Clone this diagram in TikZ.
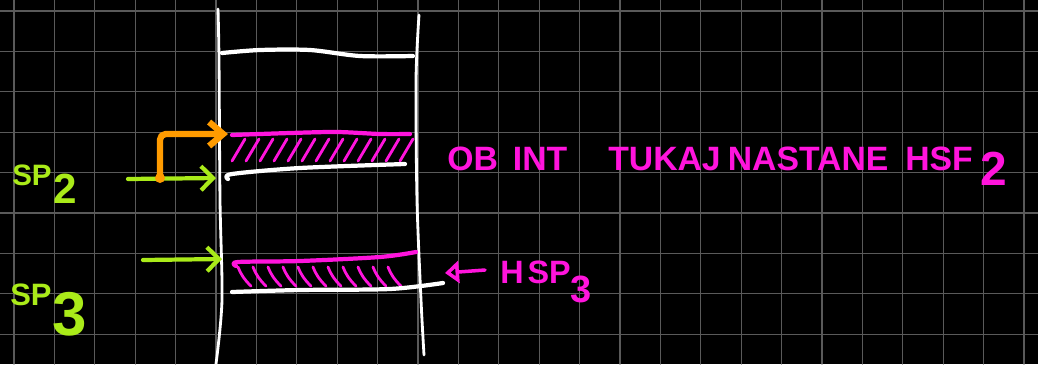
\documentclass[tikz,border=0pt]{standalone}
\usepackage{fontspec}
\setmainfont{Liberation Sans}
\usepackage{xcolor}
\usetikzlibrary{arrows.meta, positioning}
\definecolor{cG}{RGB}{170,235,25}
\definecolor{cM}{RGB}{255,20,220}
\definecolor{cO}{RGB}{255,155,0}
\definecolor{cGr}{RGB}{90,90,90}

\begin{document}
\begin{tikzpicture}[x=0.025cm, y=-0.025cm, line cap=round, line join=round]

    \tikzstyle{wall} = [white, line width=2pt]
    \tikzstyle{frame} = [white, line width=3pt]
    \tikzstyle{mline} = [cM, line width=3pt]
    \tikzstyle{hatch} = [cM, line width=2pt]
    \tikzstyle{ptr} = [cG, line width=3pt, -{Straight Barb[length=0.3cm, width=0.6cm]}]
    \tikzstyle{lbl} = [cG, inner sep=0pt, anchor=base west, font=\bfseries\fontsize{21}{21}\selectfont]
    \tikzstyle{note} = [cM, inner sep=0pt, anchor=base west, font=\bfseries\fontsize{24}{24}\selectfont]

    \useasboundingbox (0,0) rectangle (1038,364);
    \fill[black] (0,0) rectangle (1038,364);

    % grid
    \foreach \i in {0,...,25}
        \draw[cGr, line width=0.8pt] ({14+40.4*\i},0) -- ({14+40.4*\i},364);
    \foreach \j in {0,...,8}
        \draw[cGr, line width=0.8pt] (0,{11+40.4*\j}) -- (1038,{11+40.4*\j});

    % stack walls
    \draw[wall] plot[smooth] coordinates {(218,9) (219,60) (220,200) (222,300) (216,364)};
    \draw[wall] plot[smooth] coordinates {(419,15) (416,80) (417,200) (421,300) (424,355)};

    % top frame
    \draw[frame] plot[smooth] coordinates {(222,53) (260,50) (310,50) (360,56) (413,56)};

    % HSF2 (hatched)
    \draw[mline] plot[smooth] coordinates {(232,135) (290,133) (337,132) (380,134) (410,134)};
    \foreach \x in {232,246,...,400}
        \draw[hatch] (\x,161) -- ({\x+13},139);
    \draw[frame] plot[smooth] coordinates {(228,179) (232,174) (300,168) (405,164)};

    % HSP3 (hatched)
    \draw[mline] plot[smooth] coordinates {(236,266) (238,262) (300,261) (380,257) (416,252)};
    \foreach \x in {238,253,...,395}
        \draw[hatch] (\x,267) to[bend right=12] ({\x+13},286);
    \draw[frame] plot[smooth] coordinates {(232,292) (300,290) (390,289) (443,283)};

    % pointer ends
    \coordinate (sp2tail) at (128,179);
    \coordinate (sp2tip) at (216,178);
    \coordinate (fork) at (160,178);
    \coordinate (hsf2tip) at (228,134);
    \coordinate (sp3tail) at (143,260);
    \coordinate (sp3tip) at (222,259);
    \coordinate (hsp3tail) at (485,270);
    \coordinate (hsp3tip) at (445,273);

    % pointers
    \draw[ptr] (sp2tail) -- (sp2tip);
    \draw[cO, line width=4.5pt, rounded corners=4pt, -{Straight Barb[length=0.35cm, width=0.6cm]}] (fork) |- (hsf2tip);
    \fill[cO] (fork) circle (5);
    \draw[ptr] (sp3tail) -- (sp3tip);
    \draw[cM, line width=2.5pt, -{Triangle[open, length=0.35cm, width=0.55cm]}] (hsp3tail) -- (hsp3tip);

    % labels
    \node[lbl] (sp2) at (12,185) {SP\hspace{0.05cm}\raisebox{-0.45cm}{\fontsize{30}{30}\selectfont 2}};
    \node[lbl, font=\bfseries\fontsize{22}{22}\selectfont] (sp3) at (10,305) {SP\hspace{0.02cm}\raisebox{-0.75cm}{\fontsize{44}{44}\selectfont 3}};
    \node[note] (hsf2) at (447,170) {OB\hspace{0.375cm}INT\hspace{1.025cm}TUKAJ\hspace{0.175cm}NASTANE\hspace{0.425cm}HSF\hspace{0.2cm}\raisebox{-0.375cm}{\fontsize{34}{34}\selectfont 2}};
    \node[note, font=\bfseries\fontsize{23}{23}\selectfont] (hsp3) at (500,283) {H\hspace{0.1cm}SP\raisebox{-0.475cm}{\fontsize{27}{27}\selectfont 3}};
\end{tikzpicture}
\end{document}
